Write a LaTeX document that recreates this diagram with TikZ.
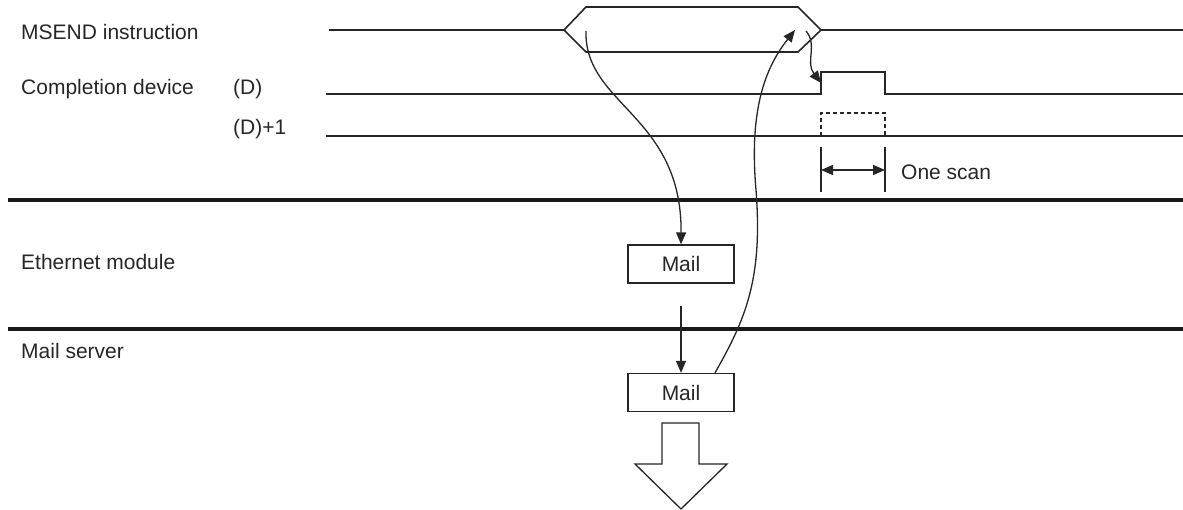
\documentclass[tikz,border=0pt]{standalone}
\usepackage{fontspec}
\setmainfont{Liberation Sans}
\usetikzlibrary{arrows.meta}
\tikzset{
  lbl/.style={anchor=base west, inner sep=0pt, font=\fontsize{21}{25}\selectfont, text=black!85},
  sig/.style={line width=1.6pt, draw=black!85},
  thin/.style={line width=1.3pt, draw=black!85},
  thick band/.style={line width=3.8pt, draw=black!90},
  mailbox/.style={draw=black!85, line width=1.3pt, minimum width=106pt, minimum height=38pt, inner sep=0pt, font=\fontsize{21}{25}\selectfont, text=black!85},
  arr/.style={line width=1.3pt, draw=black!85, -{Triangle[length=12pt,width=10pt]}},
}
\begin{document}
\begin{tikzpicture}[x=1pt,y=-1pt]
\useasboundingbox (0,0) rectangle (1183,510);
% labels
\node[lbl] (l1) at (21,40) {MSEND instruction};
\node[lbl] (l2) at (21,95) {Completion device};
\node[lbl] (l3) at (233,95) {(D)};
\node[lbl] (l4) at (233,135) {(D)+1};
\node[lbl] (l5) at (901,180) {One scan};
\node[lbl] (l6) at (21,270) {Ethernet module};
\node[lbl] (l7) at (21,359) {Mail server};
% MSEND signal with hexagon
\draw[sig] (329,30) -- (564,30) -- (586,7) -- (798,7) -- (821,30) -- (1183,30);
\draw[sig] (564,30) -- (586,52) -- (798,52) -- (821,30);
% completion device (D)
\draw[sig] (326,94) -- (821,94) -- (821,72) -- (885,72) -- (885,94) -- (1183,94);
% (D)+1
\draw[sig] (326,136) -- (1183,136);
\draw[thin, dash pattern=on 4pt off 3pt] (821,136) -- (821,113) -- (885,113) -- (885,136);
% one scan
\draw[sig] (821,147) -- (821,192);
\draw[sig] (885,147) -- (885,192);
\draw[line width=1.5pt, draw=black!85, {Triangle[length=12pt,width=10pt]}-{Triangle[length=12pt,width=10pt]}] (821,170) -- (885,170);
% bands
\draw[thick band] (8,200) -- (1183,200);
\draw[thick band] (8,329) -- (1183,329);
% mail boxes
\node[mailbox] (mail1) at (681,264) {Mail};
\node[mailbox] (mail2) at (681,392.5) {Mail};
% connectors
\coordinate (s1) at (586,31);
\coordinate (s2) at (806,31);
\coordinate (t2) at (795,30);
\coordinate (rise) at (821,83);
\coordinate (a1) at (681,306);
\draw[arr] (s1) .. controls (584,105) and (682,115) .. (mail1.north);
\draw[arr] (a1) -- (mail2.north);
\draw[arr] ([xshift=34pt]mail2.north) .. controls (745,320) and (763,280) .. (756,190) .. controls (749,110) and (765,68) .. (t2);
\draw[arr] (s2) .. controls (818,45) and (805,62) .. (rise);
% big outline arrow
\draw[thin, fill=white] (662,423) -- (699,423) -- (699,464) -- (727,464) -- (681,509) -- (635,464) -- (662,464) -- cycle;
\end{tikzpicture}
\end{document}
